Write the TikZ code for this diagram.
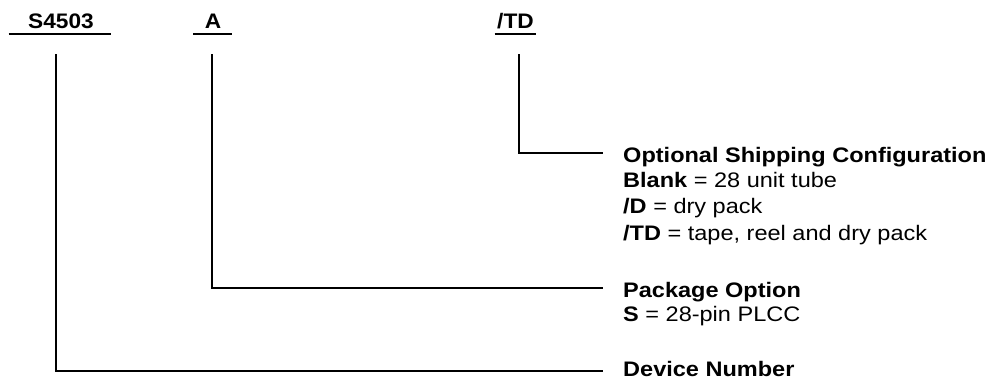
\documentclass[tikz,border=0pt]{standalone}
\usepackage{fontspec}
\setmainfont{Liberation Sans}
\newfontfamily\topfont[FakeStretch=1.08]{Liberation Sans}
\newfontfamily\rfont[FakeStretch=1.12]{Liberation Sans}
\tikzset{
  lab/.style={inner sep=0pt, anchor=base, font=\topfont\fontsize{21}{24}\selectfont\bfseries},
  desc/.style={inner sep=0pt, anchor=base west, font=\rfont\fontsize{21}{24}\selectfont},
  wire/.style={line width=2pt, line cap=rect},
  uline/.style={line width=2pt}
}
\begin{document}
\begin{tikzpicture}[x=1pt, y=-1pt]
\useasboundingbox (0,0) rectangle (995,383);
% top labels
\node[lab] (dev) at (61,28) {S4503};
\node[lab] (pkg) at (213,28) {A};
\node[lab] (shp) at (515.5,28) {/TD};
\coordinate (devUL) at (8.5,34); \coordinate (devUR) at (111,34);
\coordinate (pkgUL) at (193,34); \coordinate (pkgUR) at (232,34);
\coordinate (shpUL) at (494.6,34); \coordinate (shpUR) at (535.7,34);
\draw[uline] (devUL) -- (devUR);
\draw[uline] (pkgUL) -- (pkgUR);
\draw[uline] (shpUL) -- (shpUR);
% connector start / end points
\coordinate (devtop) at (55.5,55.4);
\coordinate (pkgtop) at (211.5,55.4);
\coordinate (shptop) at (518.6,55.4);
\coordinate (devend) at (602,370.7);
\coordinate (pkgend) at (602,288.3);
\coordinate (shpend) at (602,153.3);
\draw[wire] (shptop) |- (shpend);
\draw[wire] (pkgtop) |- (pkgend);
\draw[wire] (devtop) |- (devend);
% descriptions
\node[desc] (o1) at (623,162.7) {\bfseries Optional Shipping Configuration};
\node[desc] (o2) at (623,187.5) {\textbf{Blank} = 28 unit tube};
\node[desc] (o3) at (623,213.8) {\textbf{/D} = dry pack};
\node[desc] (o4) at (623,240) {\textbf{/TD} = tape, reel and dry pack};
\node[desc] (p1) at (623,297.7) {\bfseries Package Option};
\node[desc] (p2) at (623,321.7) {\textbf{S} = 28-pin PLCC};
\node[desc] (d1) at (623,376) {\bfseries Device Number};
\end{tikzpicture}
\end{document}
